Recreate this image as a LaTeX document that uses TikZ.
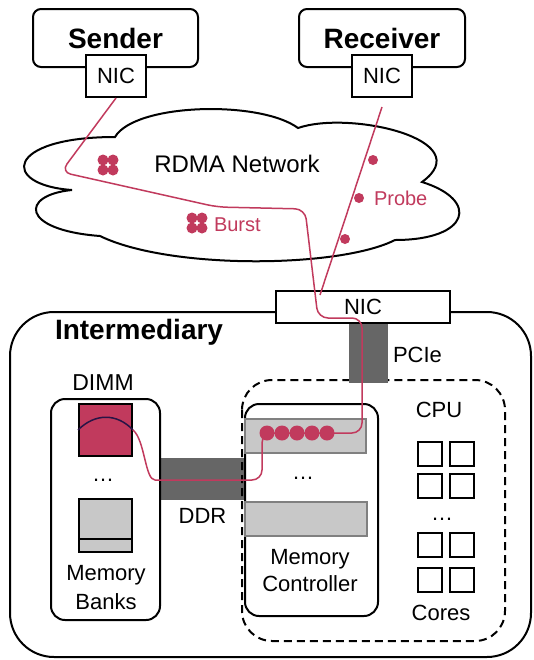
\documentclass[tikz,border=0pt]{standalone}
\usepackage{fontspec}
\setmainfont{Liberation Sans}
\usetikzlibrary{positioning}
\definecolor{burst}{RGB}{193,58,93}
\definecolor{bus}{RGB}{102,102,102}
\definecolor{bank}{RGB}{200,200,200}
\definecolor{wave}{RGB}{40,20,70}

\begin{document}
\begin{tikzpicture}[x=0.5pt, y=-0.5pt, line width=1pt]
\tikzstyle{host} = [draw, rounded corners=4pt, inner sep=0pt, font=\fontsize{14}{16}\selectfont\bfseries]
\tikzstyle{nic} = [draw, fill=white, inner sep=0pt, font=\fontsize{11}{13}\selectfont]
\tikzstyle{lbl} = [inner sep=0pt, align=center, font=\fontsize{11}{13.5}\selectfont]
\tikzstyle{big} = [inner sep=0pt, font=\fontsize{14}{16}\selectfont\bfseries]
\tikzstyle{flow} = [draw=burst, line width=0.75pt]
\tikzstyle{pkt} = [circle, fill=burst, inner sep=0pt, minimum size=5pt]
\tikzstyle{bar} = [fill=bus, inner sep=0pt]
\tikzstyle{slot} = [draw=gray, fill=bank, inner sep=0pt]
\tikzstyle{core} = [draw, minimum size=12pt, inner sep=0pt]
\useasboundingbox (0,0) rectangle (534,660);

\node[host, minimum width=82.5pt, minimum height=29pt] (sender) at (115.5,38) {Sender};
\node[nic, minimum width=30pt, minimum height=21pt] (snic) at (116,76) {NIC};
\node[host, minimum width=83pt, minimum height=29pt] (receiver) at (382,38) {Receiver};
\node[nic, minimum width=30pt, minimum height=21pt] (rnic) at (382,76) {NIC};

\draw[fill=white] (115,137) .. controls (135,103) and (260,100) .. (298,128)
  .. controls (350,110) and (480,140) .. (422,182)
  .. controls (480,200) and (470,240) .. (395,240)
  .. controls (340,268) and (170,270) .. (100,236)
  .. controls (20,230) and (20,195) .. (72,190)
  .. controls (0,185) and (5,137) .. (115,137) -- cycle;
\node[lbl, font=\fontsize{12}{14}\selectfont] (net) at (237,164) {RDMA Network};

\draw[rounded corners=22pt] (10,312) rectangle (531,657);
\node[big, anchor=west] (inter) at (54,332) {Intermediary};

\node[bar, minimum width=42.5pt, minimum height=21pt] (ddr) at (202.5,479) {};
\node[lbl, below=3pt of ddr] (ddrlbl) {DDR};
\draw[dashed, dash pattern=on 4pt off 2.5pt, rounded corners=15pt] (242,380) rectangle (505,641);
\node[bar, minimum width=19.5pt, minimum height=30pt] (pcie) at (368.5,353) {};
\node[lbl, right=1.5pt of pcie, yshift=-1pt] (pcielbl) {PCIe};
\node[nic, minimum width=87pt, minimum height=16pt] (inic) at (363,307) {NIC};

\node[draw, rounded corners=7pt, minimum width=54.5pt, minimum height=110.5pt] (dimm) at (105.5,509.5) {};
\node[lbl, font=\fontsize{11.5}{13}\selectfont] (dimmlbl) at (103,383) {DIMM};
\node[draw, fill=burst, minimum width=26.5pt, minimum height=26pt, inner sep=0pt] (row) at (105.5,430) {};
\draw[wave, line width=0.75pt] (row.west) .. controls (95,413) and (117,413) .. (row.east);
\node[lbl] (bdots) at (103,480) {…};
\node[draw, fill=bank, minimum width=26.5pt, minimum height=26.5pt, inner sep=0pt] (bank) at (105.5,525.5) {};
\draw ([yshift=-6.5pt]bank.west) -- ([yshift=-6.5pt]bank.east);
\node[lbl, font=\fontsize{11}{14.5}\selectfont] (banklbl) at (106,588) {Memory\\Banks};

\node[draw, rounded corners=7pt, minimum width=66.5pt, minimum height=106pt] (mc) at (311.5,510) {};
\node[slot, minimum width=60.5pt, minimum height=17pt] (slota) at (305.5,436) {};
\node[lbl] (mdots) at (303,478) {…};
\node[slot, minimum width=61pt, minimum height=17pt] (slotb) at (306,519) {};
\node[lbl] (mclbl) at (310,571) {Memory\\Controller};

\node[lbl] (cpu) at (439,410) {CPU};
\foreach \y [count=\r] in {453.5,486,545,579.5}
  \foreach \x [count=\c] in {430,461.5}
    \node[core] (core\r\c) at (\x,\y) {};
\node[lbl] (cdots) at (442,519) {…};
\node[lbl] (cores) at (441,613) {Cores};

\coordinate (ptop) at ([yshift=-4.5pt]rnic.south);
\coordinate (pin) at (320,295);
\draw[flow, rounded corners=5pt] (snic.south) -- (61,172) -- (217,207) -- (305,209)
  -- (318,318) -- (362,318) -- (362,433) -- (262,433) -- (262,480) -- (165,480)
  .. controls (145,480) and (145,440) .. (row.east);
\draw[flow] (ptop) -- (pin);

\foreach \i in {0,...,4}
  \node[pkt, minimum size=7.5pt] (q\i) at (267+15*\i,433) {};
\node[pkt] (p1) at (373,160) {};
\node[pkt] (p2) at (359,198) {};
\node[pkt] (p3) at (345,239) {};
\node[lbl, text=burst, right=4pt of p2, font=\fontsize{10}{12}\selectfont] (probe) {Probe};
\foreach \bx/\by/\bn in {108/165/a, 197/223/b}
  \foreach \dx/\dy [count=\k] in {-5/-5,5/-5,-5/5,5/5}
    \node[pkt, minimum size=5.5pt] (burst\bn\k) at (\bx+\dx,\by+\dy) {};
\node[lbl, text=burst, anchor=west, font=\fontsize{10}{12}\selectfont] (burstlbl) at (213,225) {Burst};
\end{tikzpicture}
\end{document}
